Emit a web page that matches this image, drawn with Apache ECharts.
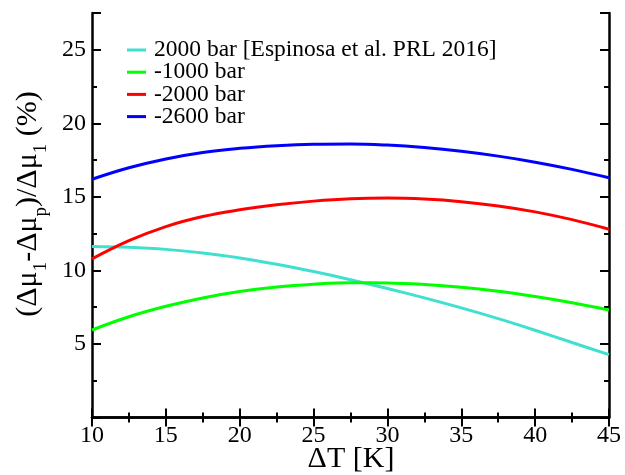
<!DOCTYPE html>
<html><head><meta charset="utf-8">
<script src="https://cdn.jsdelivr.net/npm/echarts@6/dist/echarts.min.js"></script>
<style>html,body{margin:0;padding:0;background:#fff}#c{width:625px;height:475px}</style>
</head><body><div id="c"></div>
<script>
const temps = [10, 12.5, 15, 17.5, 20, 22.5, 25, 27.5, 30, 32.5, 35, 37.5, 40, 42.5, 45];
const espinosa2000 = [11.63, 11.57, 11.43, 11.18, 10.85, 10.42, 9.92, 9.37, 8.77, 8.13, 7.45, 6.72, 5.93, 5.1, 4.27];
const minus1000 = [5.95, 6.85, 7.56, 8.13, 8.56, 8.87, 9.06, 9.16, 9.15, 9.05, 8.86, 8.58, 8.22, 7.8, 7.31];
const minus2000 = [10.78, 12.02, 12.98, 13.66, 14.12, 14.46, 14.71, 14.87, 14.92, 14.85, 14.67, 14.38, 13.98, 13.45, 12.8];
const minus2600 = [16.2, 16.98, 17.58, 18.02, 18.3, 18.48, 18.58, 18.6, 18.52, 18.35, 18.1, 17.77, 17.36, 16.87, 16.3];
const seriesNames = ['2000 bar [Espinosa et al. PRL 2016]', '-1000 bar', '-2000 bar', '-2600 bar'];
const seriesColors = ['#40E0D0', '#00FF00', '#FF0000', '#0000FF'];
const xTitle = 'ΔT [K]';

const FONT = 'Liberation Serif';
const chart = echarts.init(document.getElementById('c'));
const zip = (ys) => temps.map((t, i) => [t, ys[i]]);
const allData = [espinosa2000, minus1000, minus2000, minus2600];

const axLine = { show: true, lineStyle: { color: '#000', width: 2.5 } };
function xAx(pos, labels) {
  return {
    type: 'value', position: pos, min: 10, max: 45, interval: 5,
    axisLine: axLine,
    axisTick: { show: true, inside: true, length: 9, lineStyle: { color: '#000', width: 2 } },
    minorTick: { show: true, splitNumber: 2, length: 5, lineStyle: { color: '#000', width: 2 } },
    splitLine: { show: false }, minorSplitLine: { show: false },
    axisLabel: { show: labels, color: '#000', fontFamily: FONT, fontSize: 24, margin: 6 }
  };
}
function yAx(pos, interval, len, labels, line) {
  return {
    type: 'value', position: pos, min: 0, max: 27.5, interval: interval, offset: 0,
    axisLine: line ? axLine : { show: false },
    axisTick: { show: true, inside: true, length: len, lineStyle: { color: '#000', width: 2 } },
    splitLine: { show: false },
    axisLabel: {
      show: labels, color: '#000', fontFamily: FONT, fontSize: 24, margin: 6,
      formatter: (v) => (v === 0 || v % 5 !== 0) ? '' : String(v)
    }
  };
}

chart.setOption({
  animation: false,
  backgroundColor: '#fff',
  grid: { left: 92, right: 16, top: 13, bottom: 57.5, containLabel: false, outerBoundsMode: 'none' },
  xAxis: [xAx('bottom', true), xAx('top', false)],
  yAxis: [
    yAx('left', 5, 9, true, true),
    yAx('left', 2.5, 5, false, false),
    yAx('right', 5, 9, false, true),
    yAx('right', 2.5, 5, false, false)
  ],
  legend: {
    orient: 'vertical', left: 122, top: 33, itemGap: -1.8,
    icon: 'rect', itemWidth: 19, itemHeight: 3,
    selectedMode: false,
    textStyle: { fontFamily: FONT, fontSize: 23.5, color: '#000', lineHeight: 22, padding: [0, 0, 0, 3] },
    data: seriesNames
  },
  series: seriesNames.map((n, i) => ({
    name: n, type: 'line', xAxisIndex: 0, yAxisIndex: 0,
    data: zip(allData[i]), smooth: 0.4, showSymbol: false,
    lineStyle: { color: seriesColors[i], width: 3 },
    itemStyle: { color: seriesColors[i] }
  })),
  graphic: [
    {
      type: 'text', x: 351, y: 459,
      style: { text: xTitle, fontFamily: FONT, fontSize: 30, fill: '#000', textAlign: 'center', textVerticalAlign: 'middle' }
    },
    {
      type: 'text', x: 28, y: 204, rotation: Math.PI / 2,
      style: {
        text: '{n|(Δμ}{s|1}{n|-Δμ}{s|p}{n|)/Δμ}{s|1}{n| (%)}',
        textAlign: 'center', textVerticalAlign: 'middle', fill: '#000',
        rich: {
          n: { fontFamily: FONT, fontSize: 30, fill: '#000' },
          s: { fontFamily: FONT, fontSize: 19, fill: '#000', padding: [26, 0, 0, 0] }
        }
      }
    }
  ]
});
</script></body></html>
